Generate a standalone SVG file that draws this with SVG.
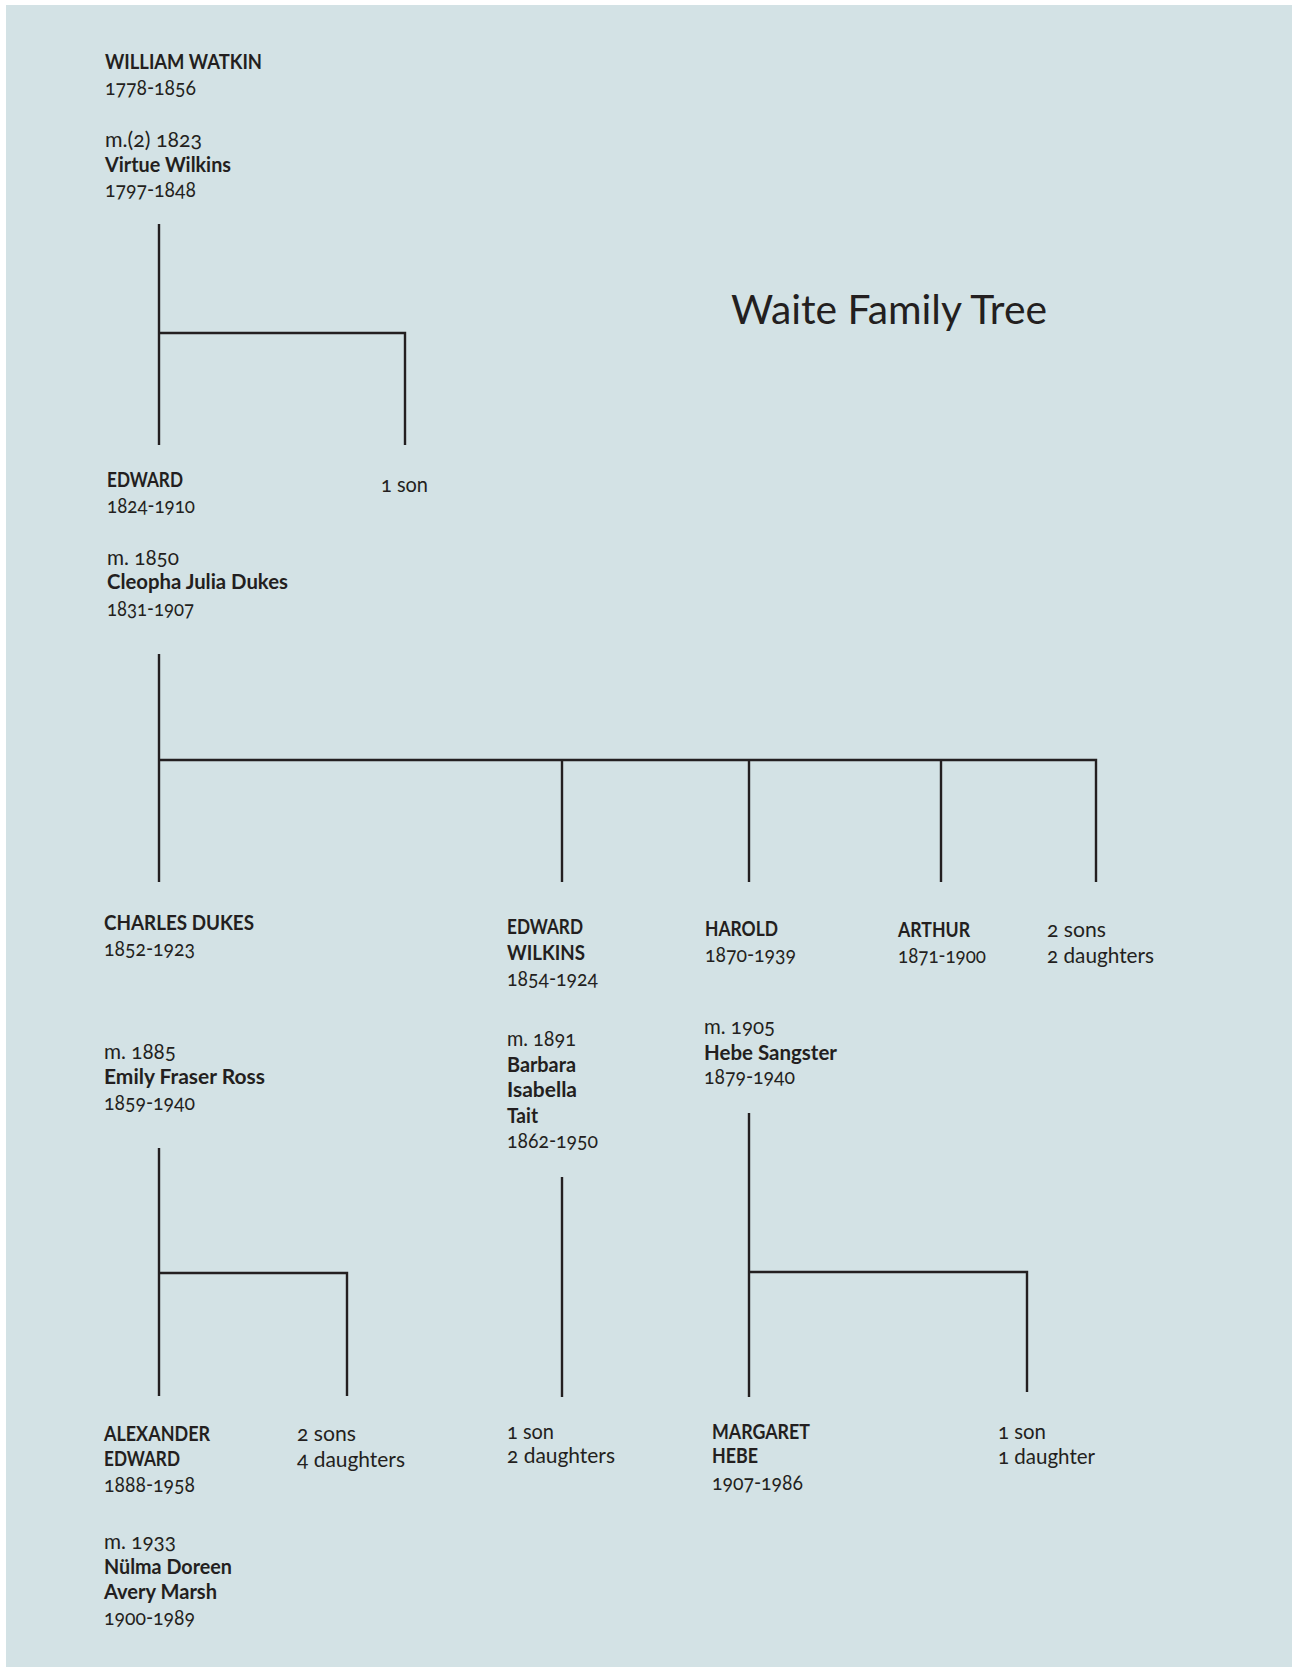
<svg xmlns="http://www.w3.org/2000/svg" width="1292" height="1667" viewBox="0 0 1292 1667">
<style>
text{font-family:Lato,"Open Sans","Liberation Sans",sans-serif;font-size:21px;fill:#231f20;font-variant-numeric:oldstyle-nums}
.b{font-weight:bold;font-size:20px}
.t{font-size:40px}
.c path{fill:none;stroke:#231f20;stroke-width:2.4}
</style>
<rect x="0" y="0" width="1292" height="1667" fill="#ffffff"/>
<rect x="6" y="5" width="1286" height="1662" fill="#d3e2e5"/>
<text class="t" x="731" y="324" textLength="316" lengthAdjust="spacingAndGlyphs">Waite Family Tree</text>
<g class="c" id="connectors">
<path d="M159,224V445M159,333H405V445"/>
<path d="M159,654V882M159,760H1096V882M562,760V882M749,760V882M941,760V882"/>
<path d="M159,1148V1396M159,1273H347V1396"/>
<path d="M562,1177V1397"/>
<path d="M749,1113V1397M749,1272H1027V1392"/>
</g>
<g id="william">
<text class="b" x="105" y="69" textLength="157" lengthAdjust="spacingAndGlyphs">WILLIAM WATKIN</text>
<text x="105" y="95" textLength="91" lengthAdjust="spacingAndGlyphs">1778-1856</text>
<text x="105" y="147" textLength="97" lengthAdjust="spacingAndGlyphs">m.(2) 1823</text>
<text class="b" x="105" y="172" textLength="126" lengthAdjust="spacingAndGlyphs">Virtue Wilkins</text>
<text x="105" y="197" textLength="91" lengthAdjust="spacingAndGlyphs">1797-1848</text>
</g>
<g id="edward">
<text class="b" x="107" y="487" textLength="76" lengthAdjust="spacingAndGlyphs">EDWARD</text>
<text x="107" y="513" textLength="88" lengthAdjust="spacingAndGlyphs">1824-1910</text>
<text x="107" y="565" textLength="72" lengthAdjust="spacingAndGlyphs">m. 1850</text>
<text class="b" x="107" y="589" textLength="181" lengthAdjust="spacingAndGlyphs">Cleopha Julia Dukes</text>
<text x="107" y="616" textLength="87" lengthAdjust="spacingAndGlyphs">1831-1907</text>
</g>
<g id="edward-sibling"><text x="381" y="492" textLength="47" lengthAdjust="spacingAndGlyphs">1 son</text></g>
<g id="charles">
<text class="b" x="104" y="930" textLength="150" lengthAdjust="spacingAndGlyphs">CHARLES DUKES</text>
<text x="104" y="956" textLength="91" lengthAdjust="spacingAndGlyphs">1852-1923</text>
<text x="104" y="1059" textLength="72" lengthAdjust="spacingAndGlyphs">m. 1885</text>
<text class="b" x="104" y="1084" textLength="161" lengthAdjust="spacingAndGlyphs">Emily Fraser Ross</text>
<text x="104" y="1110" textLength="91" lengthAdjust="spacingAndGlyphs">1859-1940</text>
</g>
<g id="edward-wilkins">
<text class="b" x="507" y="934" textLength="76" lengthAdjust="spacingAndGlyphs">EDWARD</text>
<text class="b" x="507" y="960" textLength="78" lengthAdjust="spacingAndGlyphs">WILKINS</text>
<text x="507" y="986" textLength="91" lengthAdjust="spacingAndGlyphs">1854-1924</text>
<text x="507" y="1046" textLength="69" lengthAdjust="spacingAndGlyphs">m. 1891</text>
<text class="b" x="507" y="1072" textLength="69" lengthAdjust="spacingAndGlyphs">Barbara</text>
<text class="b" x="507" y="1097" textLength="70" lengthAdjust="spacingAndGlyphs">Isabella</text>
<text class="b" x="507" y="1123" textLength="31" lengthAdjust="spacingAndGlyphs">Tait</text>
<text x="507" y="1148" textLength="91" lengthAdjust="spacingAndGlyphs">1862-1950</text>
</g>
<g id="harold">
<text class="b" x="705" y="936" textLength="73" lengthAdjust="spacingAndGlyphs">HAROLD</text>
<text x="705" y="962" textLength="91" lengthAdjust="spacingAndGlyphs">1870-1939</text>
<text x="704" y="1034" textLength="71" lengthAdjust="spacingAndGlyphs">m. 1905</text>
<text class="b" x="704" y="1060" textLength="133" lengthAdjust="spacingAndGlyphs">Hebe Sangster</text>
<text x="704" y="1084" textLength="91" lengthAdjust="spacingAndGlyphs">1879-1940</text>
</g>
<g id="arthur">
<text class="b" x="898" y="937" textLength="72" lengthAdjust="spacingAndGlyphs">ARTHUR</text>
<text x="898" y="963" textLength="88" lengthAdjust="spacingAndGlyphs">1871-1900</text>
</g>
<g id="others-gen2">
<text x="1047" y="937" textLength="59" lengthAdjust="spacingAndGlyphs">2 sons</text>
<text x="1047" y="963" textLength="107" lengthAdjust="spacingAndGlyphs">2 daughters</text>
</g>
<g id="alexander">
<text class="b" x="104" y="1441" textLength="106" lengthAdjust="spacingAndGlyphs">ALEXANDER</text>
<text class="b" x="104" y="1466" textLength="76" lengthAdjust="spacingAndGlyphs">EDWARD</text>
<text x="104" y="1492" textLength="91" lengthAdjust="spacingAndGlyphs">1888-1958</text>
<text x="104" y="1549" textLength="72" lengthAdjust="spacingAndGlyphs">m. 1933</text>
<text class="b" x="104" y="1574" textLength="128" lengthAdjust="spacingAndGlyphs">Nülma Doreen</text>
<text class="b" x="104" y="1599" textLength="113" lengthAdjust="spacingAndGlyphs">Avery Marsh</text>
<text x="104" y="1625" textLength="91" lengthAdjust="spacingAndGlyphs">1900-1989</text>
</g>
<g id="charles-others">
<text x="297" y="1441" textLength="59" lengthAdjust="spacingAndGlyphs">2 sons</text>
<text x="297" y="1467" textLength="108" lengthAdjust="spacingAndGlyphs">4 daughters</text>
</g>
<g id="edward-wilkins-children">
<text x="507" y="1439" textLength="47" lengthAdjust="spacingAndGlyphs">1 son</text>
<text x="507" y="1463" textLength="108" lengthAdjust="spacingAndGlyphs">2 daughters</text>
</g>
<g id="margaret">
<text class="b" x="712" y="1439" textLength="98" lengthAdjust="spacingAndGlyphs">MARGARET</text>
<text class="b" x="712" y="1463" textLength="46" lengthAdjust="spacingAndGlyphs">HEBE</text>
<text x="712" y="1490" textLength="91" lengthAdjust="spacingAndGlyphs">1907-1986</text>
</g>
<g id="harold-others">
<text x="998" y="1439" textLength="48" lengthAdjust="spacingAndGlyphs">1 son</text>
<text x="998" y="1464" textLength="97" lengthAdjust="spacingAndGlyphs">1 daughter</text>
</g>
</svg>
